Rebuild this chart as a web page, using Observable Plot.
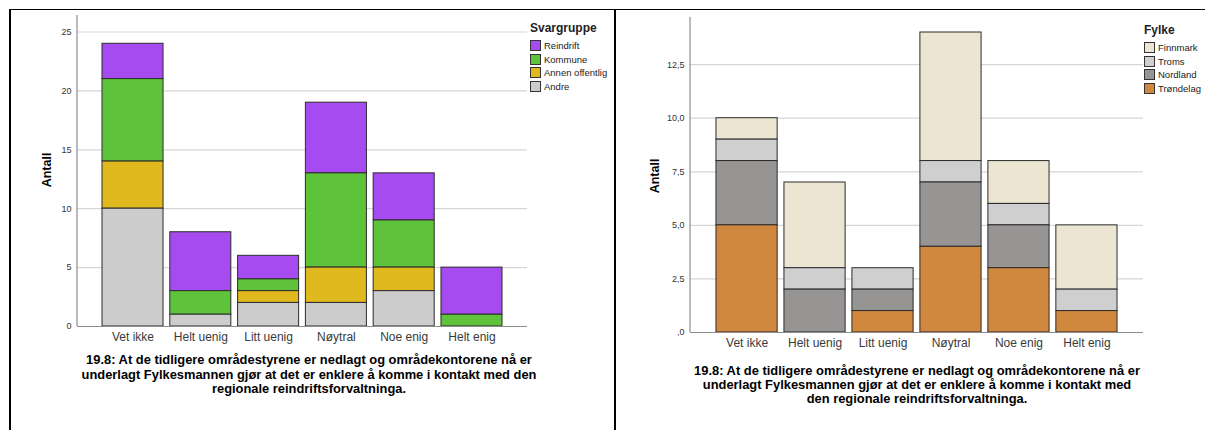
<!DOCTYPE html>
<html><head><meta charset="utf-8">
<script src="https://cdn.jsdelivr.net/npm/d3@7"></script>
<script src="https://cdn.jsdelivr.net/npm/@observablehq/plot@0.6"></script>
<style>
body{margin:0;background:#fff;font-family:"Liberation Sans",Arial,sans-serif;width:1205px;height:430px;position:relative;overflow:hidden}
.hline{position:absolute;left:9px;top:9px;width:1196px;height:1px;background:#000}
.vline{position:absolute;top:9px;width:2px;height:421px;background:#000}
.panel{position:absolute;top:10px}
.panel svg{display:block}
.legend{position:absolute;font-size:9.5px;color:#222}
.legend .t{font-weight:bold;font-size:12px;height:16px;line-height:16px;margin-bottom:3px}
.legend .i{display:flex;align-items:center;height:13.5px}
.sw{width:9px;height:9px;border:1px solid #333;margin-right:3px;box-sizing:content-box}
.cap{position:absolute;font-weight:bold;font-size:12.9px;text-align:center;color:#000;white-space:nowrap;transform:translateX(-50%)}
.ylab{position:absolute;font-weight:bold;font-size:12.5px;color:#000;transform:translate(-50%,-50%) rotate(-90deg);white-space:nowrap}
</style></head>
<body>
<div class="hline"></div>
<div class="vline" style="left:9px"></div>
<div class="vline" style="left:614px"></div>
<div id="p1" class="panel" style="left:10px"></div>
<div id="p2" class="panel" style="left:616px"></div>
<div class="ylab" style="left:47px;top:170px">Antall</div>
<div class="ylab" style="left:655px;top:176px">Antall</div>
<div id="leg1" class="legend" style="left:530px;top:20px"></div>
<div id="leg2" class="legend" style="left:1144px;top:22px"></div>
<div class="cap" style="left:309px;top:353px;line-height:14.5px">19.8: At de tidligere områdestyrene er nedlagt og områdekontorene nå er<br>underlagt Fylkesmannen gjør at det er enklere å komme i kontakt med den<br>regionale reindriftsforvaltninga.</div>
<div class="cap" style="left:917px;top:364px;line-height:14px">19.8: At de tidligere områdestyrene er nedlagt og områdekontorene nå er<br>underlagt Fylkesmannen gjør at det er enklere å komme i kontakt med<br>den regionale reindriftsforvaltninga.</div>
<script>
// ---------- data ----------
const categories = ["Vet ikke","Helt uenig","Litt uenig","Nøytral","Noe enig","Helt enig"];

// Left chart: Svargruppe
const svargrupper = ["Reindrift","Kommune","Annen offentlig","Andre"]; // legend order (top first)
const svarColors = ["#a64bf0","#5ec23b","#e0b91f","#cccccc"];
const reindrift = [3,5,2,6,4,4];
const kommune = [7,2,1,8,4,1];
const annenOffentlig = [4,0,1,3,2,0];
const andre = [10,1,2,2,3,0];
const leftTicks = [0,5,10,15,20,25];

// Right chart: Fylke
const fylker = ["Finnmark","Troms","Nordland","Trøndelag"]; // legend order (top first)
const fylkeColors = ["#ebe5d1","#cfcfcf","#979494","#d0883f"];
const finnmark = [1,4,0,6,2,3];
const troms = [1,1,1,1,1,1];
const nordland = [3,2,1,3,2,0];
const trondelag = [5,0,1,4,3,1];
const rightTicks = [0,2.5,5,7.5,10,12.5];
const rightTickLabels = [",0","2,5","5,0","7,5","10,0","12,5"];

// ---------- build tables ----------
function longTable(groups, series){
  const rows=[];
  groups.forEach((g,gi)=>categories.forEach((c,ci)=>{
    const v=series[gi][ci]; if(v>0) rows.push({cat:c,group:g,value:v});
  }));
  return rows;
}
const leftData = longTable(svargrupper,[reindrift,kommune,annenOffentlig,andre]);
const rightData = longTable(fylker,[finnmark,troms,nordland,trondelag]);

function makeChart({data, groups, colors, ticks, tickLabels, yMax, width, height, mL, mR, mT, mB, po}){
  const plot = Plot.plot({
    width, height, marginLeft:mL, marginRight:mR, marginTop:mT, marginBottom:mB,
    style:{fontFamily:"'Liberation Sans', Arial, sans-serif", background:"transparent", overflow:"visible"},
    x:{domain:categories, paddingInner:0.1, paddingOuter:po, round:false, label:null},
    y:{domain:[0,yMax], label:null},
    color:{domain:groups, range:colors},
    marks:[
      Plot.ruleY(ticks.filter(t=>t>0), {stroke:"#d6d6d6", strokeWidth:1.2}),
      Plot.barY(data, Plot.stackY({order:[...groups].reverse()}, {x:"cat", y:"value", fill:"group", stroke:"#2b2b2b", strokeWidth:1, inset:0})),
      Plot.ruleY([0], {stroke:"#8c8c8c", strokeWidth:1.2}),
      Plot.axisX({tickSize:0, tickPadding:6, fontSize:12, fill:"#3a3a3a"}),
      Plot.axisY({ticks, tickSize:0, tickPadding:6, fontSize:9, fill:"#333", tickFormat: tickLabels ? (d=>tickLabels[ticks.indexOf(d)]) : (d=>String(d))})
    ]
  });
  const xs = plot.scale("x"), ys = plot.scale("y");
  d3.select(plot).append("line")
    .attr("x1", xs.range[0]).attr("x2", xs.range[0])
    .attr("y1", ys.range[0]).attr("y2", ys.range[1])
    .attr("stroke","#8c8c8c").attr("stroke-width",1.2);
  return plot;
}

document.getElementById("p1").appendChild(makeChart({
  data:leftData, groups:svargrupper, colors:svarColors, ticks:leftTicks, tickLabels:null,
  yMax:26.4, width:520, height:345, mL:67, mR:3, mT:5, mB:29, po:0.369
}));
document.getElementById("p2").appendChild(makeChart({
  data:rightData, groups:fylker, colors:fylkeColors, ticks:rightTicks, tickLabels:rightTickLabels,
  yMax:14.7, width:530, height:345, mL:74, mR:3, mT:7, mB:23, po:0.382
}));

function legend(id, title, groups, colors){
  const el=document.getElementById(id);
  const t=document.createElement("div"); t.className="t"; t.textContent=title; el.appendChild(t);
  groups.forEach((g,i)=>{
    const it=document.createElement("div"); it.className="i";
    const sw=document.createElement("div"); sw.className="sw"; sw.style.background=colors[i];
    const tx=document.createElement("span"); tx.textContent=g;
    it.appendChild(sw); it.appendChild(tx); el.appendChild(it);
  });
}
legend("leg1","Svargruppe",svargrupper,svarColors);
legend("leg2","Fylke",fylker,fylkeColors);
</script>
</body></html>
